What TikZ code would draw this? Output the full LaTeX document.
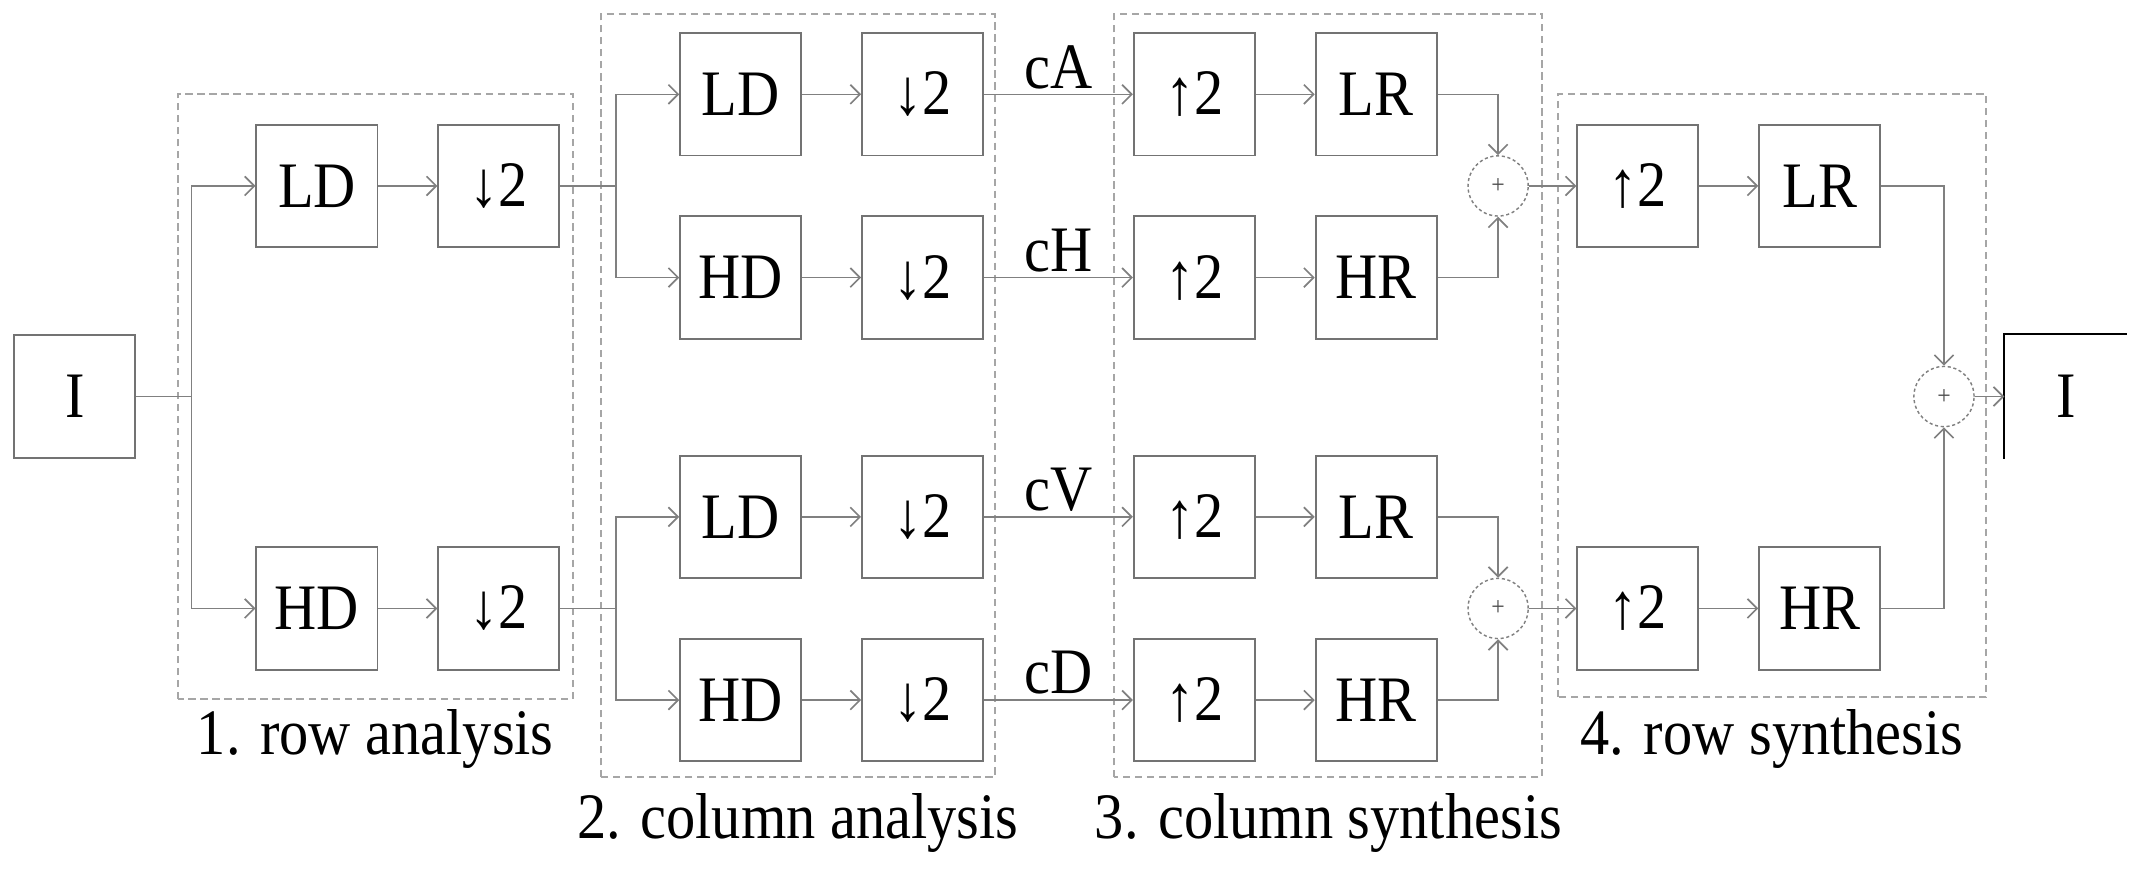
\documentclass[tikz,border=0pt]{standalone}
\usepackage{fontspec}
\setmainfont{Liberation Serif}[FakeStretch=0.9]
\usepackage{tikz}
\usetikzlibrary{shapes,arrows.meta}
\tikzstyle{block} = [rectangle, draw=black!55, line width=0.8pt,
    minimum width=1.77cm, minimum height=1.79cm, inner sep=0pt, font=\fontsize{27}{30}\selectfont]
\tikzstyle{sum} = [circle, draw=black!50, line width=0.6pt, dash pattern=on 1.3pt off 1.1pt,
    minimum size=0.88cm, inner sep=0pt, text=black!70, font=\fontsize{11}{12}\selectfont]
\tikzstyle{group} = [draw=gray!70, line width=0.8pt, dash pattern=on 3pt off 2pt]
\tikzstyle{caption} = [anchor=base, font=\fontsize{27}{30}\selectfont]
\tikzstyle{wire} = [draw, black!50, line width=0.7pt]
\tikzstyle{line} = [draw, black!50, line width=0.7pt, -{Straight Barb[length=4pt,width=8pt]}]

\begin{document}
\begin{tikzpicture}[node distance = 2.66cm]
    \useasboundingbox (0,0) rectangle (31.36,12.72);
    % Stage frames
    \draw [group] (2.6,2.494) rectangle (8.378,11.344);
    \draw [group] (8.792,1.35) rectangle (14.548,12.516);
    \draw [group] (16.3,1.35) rectangle (22.556,12.516);
    \draw [group] (22.79,2.524) rectangle (29.054,11.344);
    \node [caption] (l1) at (5.49,1.69) {1. row analysis};
    \node [caption] (l2) at (11.67,0.46) {2. column analysis};
    \node [caption] (l3) at (19.43,0.46) {3. column synthesis};
    \node [caption] (l4) at (25.92,1.69) {4. row synthesis};

    % Place nodes
    \node [block] (0) at (1.095,6.92) {I};
    \node [block] (1) at (4.636,10) {LD};
    \node [block, right of=1] (2) {↓2};
    \node [block] (3) at (4.636,3.82) {HD};
    \node [block, right of=3] (4) {↓2};
    \node [block] (5) at (10.834,11.34) {LD};
    \node [block, right of=5] (6) {↓2};
    \node [block] (7) at (10.834,8.66) {HD};
    \node [block, right of=7] (8) {↓2};
    \node [block] (9) at (10.834,5.16) {LD};
    \node [block, right of=9] (10) {↓2};
    \node [block] (11) at (10.834,2.48) {HD};
    \node [block, right of=11] (12) {↓2};
    \node [block, right of=6, node distance=3.975cm] (13) {↑2};
    \node [block, right of=13] (14) {LR};
    \node [block, right of=8, node distance=3.975cm] (15) {↑2};
    \node [block, right of=15] (16) {HR};
    \node [block, right of=10, node distance=3.975cm] (17) {↑2};
    \node [block, right of=17] (18) {LR};
    \node [block, right of=12, node distance=3.975cm] (19) {↑2};
    \node [block, right of=19] (20) {HR};
    \node [sum] (21) at (21.912,10) {+};
    \node [sum] (22) at (21.912,3.82) {+};
    \node [block] (23) at (23.956,10) {↑2};
    \node [block, right of=23] (24) {LR};
    \node [block] (25) at (23.956,3.82) {↑2};
    \node [block, right of=25] (26) {HR};
    \node [sum] (27) at (28.434,6.92) {+};
    \node [block, draw=none] (28) at (30.215,6.92) {I};
    \draw [line width=0.9pt] (28.south west) |- (28.north east);
    \coordinate (j1) at (2.8,6.92);
    \coordinate (j2) at (9.008,10);
    \coordinate (j3) at (9.008,3.82);

    % Draw edges
    \path [wire] (0) -- (j1);
    \path [line] (j1) |- (1);
    \path [line] (j1) |- (3);
    \path [line] (1) -- (2);
    \path [line] (3) -- (4);
    \path [wire] (2) -- (j2);
    \path [wire] (4) -- (j3);
    \path [line] (j2) |- (5);
    \path [line] (j2) |- (7);
    \path [line] (j3) |- (9);
    \path [line] (j3) |- (11);
    \path [line] (5) -- (6);
    \path [line] (7) -- (8);
    \path [line] (9) -- (10);
    \path [line] (11) -- (12);
    \path [line] (6) -- node [caption, anchor=south, inner sep=2pt, text=black] (cA) {cA} (13);
    \path [line] (8) -- node [caption, anchor=south, inner sep=2pt, text=black] (cH) {cH} (15);
    \path [line] (10) -- node [caption, anchor=south, inner sep=2pt, text=black] (cV) {cV} (17);
    \path [line] (12) -- node [caption, anchor=south, inner sep=2pt, text=black] (cD) {cD} (19);
    \path [line] (13) -- (14);
    \path [line] (15) -- (16);
    \path [line] (17) -- (18);
    \path [line] (19) -- (20);
    \path [line] (14) -| (21);
    \path [line] (16) -| (21);
    \path [line] (18) -| (22);
    \path [line] (20) -| (22);
    \path [line] (21) -- (23);
    \path [line] (22) -- (25);
    \path [line] (23) -- (24);
    \path [line] (25) -- (26);
    \path [line] (24) -| (27);
    \path [line] (26) -| (27);
    \path [line] (27) -- (28);
\end{tikzpicture}
\end{document}
